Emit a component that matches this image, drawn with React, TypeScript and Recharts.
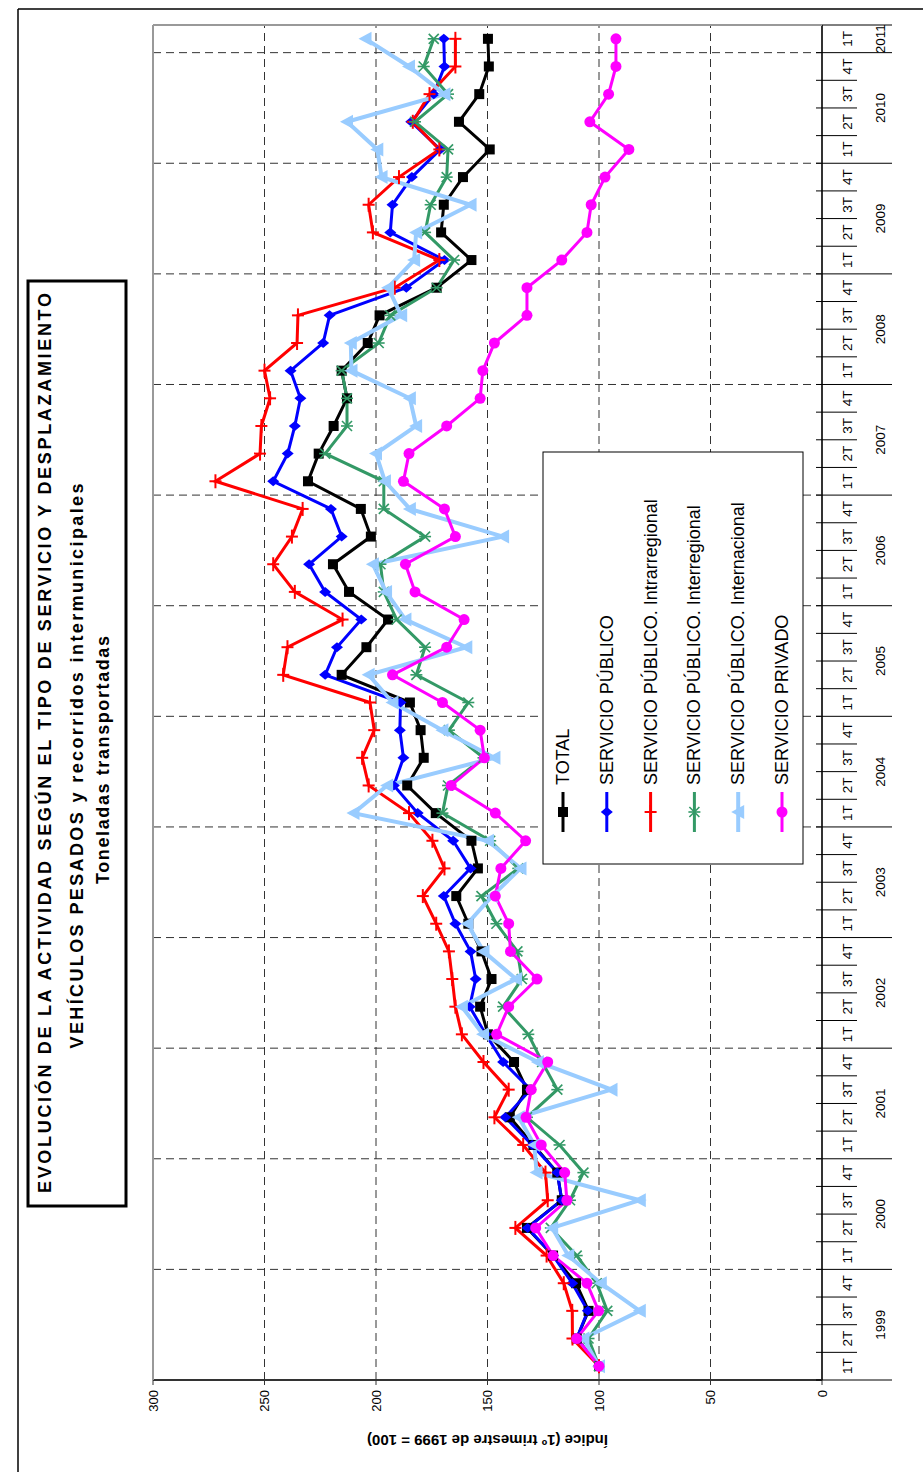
import { LineChart, Line, XAxis, YAxis, CartesianGrid } from "recharts";

// chart is drawn landscape and turned 90deg to the left, like the source sheet
const W = 1472;
const H = 923;
const PLOT_LEFT = 92;
const PLOT_TOP = 153;
const PLOT_W = 1355;
const PLOT_H = 669;
const FONT = "'Liberation Sans', Arial, sans-serif";

const years = ["1999", "2000", "2001", "2002", "2003", "2004", "2005", "2006", "2007", "2008", "2009", "2010", "2011"];
const quarters = ["1T", "2T", "3T", "4T"];
const periods = years.flatMap((y) => quarters.map((q) => `${q} ${y}`)).slice(0, 49);
const valueTicks = [0, 50, 100, 150, 200, 250, 300];

const total = [100, 110, 104.7, 110.3, 120.6, 132.3, 116.7, 118.7, 129.4, 140, 132.3, 138.1, 149.8, 153.3, 148.2, 152.7, 158.6, 164, 154.3, 157.2, 173.2, 186, 178.6, 180, 184.8, 215.4, 204.3, 194.6, 212.1, 219.3, 202.3, 206.8, 230.5, 225.7, 219, 213, 215.4, 203.7, 198.4, 172.8, 157.2, 170.8, 169.6, 161, 149, 162.8, 153.7, 149.4, 149.8];
const publico = [100, 110, 105, 112, 120.6, 132, 116.7, 118.7, 130, 142, 130.7, 143, 150.8, 158, 155.3, 157.6, 164.4, 169.6, 157.6, 165.4, 181.3, 192, 187.7, 189.3, 189, 222.8, 217.5, 206.6, 222.8, 230, 215.4, 220.2, 246.1, 239.6, 236.4, 233.9, 238.3, 223.7, 220.8, 186.4, 169.3, 193.6, 192.6, 183.9, 171.2, 184.2, 174.1, 169.3, 169.6];
const intra = [100, 111.9, 112, 115.8, 123.5, 137.5, 123, 124, 134, 146.9, 140.5, 151.8, 161.5, 164.4, 165.8, 167.3, 173, 179, 169.3, 174.7, 185.2, 203.3, 206.2, 200.8, 202.7, 241.6, 239.7, 215, 236.4, 246.1, 237.7, 232.9, 272, 252, 251.4, 247.5, 250, 235.4, 235, 191.6, 171.6, 201.4, 203.3, 189.7, 171.6, 183.5, 176, 164.4, 164.4];
const inter = [100, 104.7, 96.3, 101, 110, 121.6, 113, 107, 117.7, 132.3, 118.7, 125.5, 131.7, 143, 134.6, 136.6, 146, 152.7, 136.2, 148.8, 170.2, 167.7, 151.8, 167.3, 158.6, 181.9, 178, 190.7, 196.5, 198, 178, 196.5, 196.5, 222.8, 213, 213, 215.4, 198.8, 193.6, 172.8, 165, 178, 175.5, 168.3, 167.7, 182.5, 167.7, 178.6, 174.1];
const internac = [100, 107, 81.7, 99.2, 113.8, 121, 81.7, 128, 129, 136, 94.4, 127.4, 152, 161.5, 137.2, 151.8, 159, 148, 135.2, 149.8, 210.1, 195, 146.9, 170.2, 192.6, 203.3, 159.5, 186.8, 195.5, 201.4, 143, 184.8, 196, 200, 182, 184.8, 211, 211.3, 188.7, 194.6, 182.9, 182, 157.6, 197.5, 199.4, 213, 169.3, 185.2, 204.7];
const privado = [100, 110, 100.2, 105.4, 120.6, 128.4, 114.4, 115.4, 125.9, 132.7, 130.4, 123, 145.9, 140.5, 127.8, 139.7, 140.5, 146.5, 144, 132.9, 146.5, 166.3, 151.4, 153.3, 170.2, 192.6, 168.3, 160.5, 182.5, 186.8, 164.4, 169.3, 187.7, 185.2, 168.3, 153.3, 152.1, 146.9, 132.3, 132.3, 116.7, 105.4, 103.5, 97.3, 86.6, 104.1, 95.7, 92.4, 92.4];

const series = [
  { key: "total", name: "TOTAL", color: "#000000", width: 3, marker: "square", values: total },
  { key: "publico", name: "SERVICIO PÚBLICO", color: "#0000ff", width: 3, marker: "diamond", values: publico },
  { key: "intra", name: "SERVICIO PÚBLICO. Intrarregional", color: "#ff0000", width: 3, marker: "plus", values: intra },
  { key: "inter", name: "SERVICIO PÚBLICO. Interregional", color: "#339966", width: 3, marker: "star", values: inter },
  { key: "internac", name: "SERVICIO PÚBLICO. Internacional", color: "#99ccff", width: 4, marker: "triangle", values: internac },
  { key: "privado", name: "SERVICIO PRIVADO", color: "#ff00ff", width: 3, marker: "circle", values: privado },
];

const data = periods.map((p, i) => {
  const row: any = { periodo: p };
  series.forEach((s) => (row[s.key] = s.values[i]));
  return row;
});

const BAND = PLOT_W / periods.length;

function Marker({ shape, cx, cy, color }: { shape: string; cx: number; cy: number; color: string }) {
  if (cx == null || cy == null) return null;
  switch (shape) {
    case "square":
      return <rect x={cx - 5} y={cy - 5} width={10} height={10} fill={color} />;
    case "diamond":
      return <polygon points={`${cx},${cy - 6} ${cx + 5},${cy} ${cx},${cy + 6} ${cx - 5},${cy}`} fill={color} />;
    case "plus":
      return (
        <g stroke={color} strokeWidth={2}>
          <line x1={cx - 7} x2={cx + 7} y1={cy} y2={cy} />
          <line x1={cx} x2={cx} y1={cy - 6} y2={cy + 6} />
        </g>
      );
    case "star":
      return (
        <g stroke={color} strokeWidth={1.6}>
          <line x1={cx - 5} x2={cx + 5} y1={cy - 5} y2={cy + 5} />
          <line x1={cx - 5} x2={cx + 5} y1={cy + 5} y2={cy - 5} />
          <line x1={cx} x2={cx} y1={cy - 6} y2={cy + 6} />
        </g>
      );
    case "triangle":
      return <polygon points={`${cx},${cy - 7} ${cx + 7},${cy + 6} ${cx - 7},${cy + 6}`} fill={color} />;
    default:
      return <circle cx={cx} cy={cy} r={5.5} fill={color} />;
  }
}

function PeriodTick(props: any) {
  const { x, y, payload } = props;
  const i = payload.index;
  const q = i % 4;
  const yr = years[Math.floor(i / 4)];
  const left = x - BAND / 2;
  const last = i === periods.length - 1;
  return (
    <g fontFamily={FONT} fontSize={13.5} fill="#000">
      <line x1={left} x2={left} y1={y - 6} y2={y + (q === 0 ? 70 : 35)} stroke="#000" strokeWidth={1} />
      <text x={x} y={y + 25} textAnchor="middle" dominantBaseline="central">{quarters[q]}</text>
      {q === 1 && (
        <text x={x + BAND / 2} y={y + 58} textAnchor="middle" dominantBaseline="central">{yr}</text>
      )}
      {last && (
        <g>
          <line x1={x + BAND / 2} x2={x + BAND / 2} y1={y} y2={y + 70} stroke="#000" strokeWidth={1} />
          {q === 0 && <text x={x} y={y + 58} textAnchor="middle" dominantBaseline="central">{yr}</text>}
        </g>
      )}
    </g>
  );
}

function ValueLabel(props: any) {
  const { viewBox } = props;
  const cx = viewBox.x;
  const cy = viewBox.y + viewBox.height / 2;
  return (
    <text x={cx} y={cy} transform={`rotate(-90 ${cx} ${cy})`} textAnchor="middle" dominantBaseline="central"
      fontFamily={FONT} fontSize={15} fontWeight="bold" fill="#000">
      Índice (1º trimestre de 1999 = 100)
    </text>
  );
}

const yearLines = years.slice(1).map((_, k) => PLOT_LEFT + BAND * 4 * (k + 1));

export default function App() {
  return (
    <div style={{ position: "absolute", left: 0, top: 0, width: H, height: W, overflow: "hidden", background: "#fff" }}>
      <div style={{ position: "absolute", left: 0, top: 0, width: W, height: H, transformOrigin: "0 0", transform: `translateY(${W}px) rotate(-90deg)` }}>
        <LineChart width={W} height={H} data={data} margin={{ top: PLOT_TOP, right: W - PLOT_LEFT - PLOT_W, bottom: 11, left: 32 }}>
          <CartesianGrid stroke="#333" strokeDasharray="8 5" verticalPoints={yearLines} />
          <XAxis dataKey="periodo" interval={0} height={90} tickSize={0} tickMargin={0} tick={<PeriodTick />}
            padding={{ left: BAND / 2, right: BAND / 2 }}
            tickLine={false} axisLine={{ stroke: "#333", strokeWidth: 2 }} />
          <YAxis domain={[0, 300]} ticks={valueTicks} width={60} tickSize={5} tickMargin={5}
            tick={{ fontFamily: FONT, fontSize: 13, fill: "#000" }} tickLine={{ stroke: "#333" }}
            axisLine={{ stroke: "#333", strokeWidth: 2 }} label={<ValueLabel />} />
          {series.map((s) => (
            <Line key={s.key} dataKey={s.key} name={s.name} stroke={s.color} strokeWidth={s.width} type="linear"
              isAnimationActive={false} activeDot={false}
              dot={(p: any) => (
                <g key={`${s.key}-${p.index}`}>
                  <Marker shape={s.marker} cx={p.cx} cy={p.cy} color={s.color} />
                </g>
              )} />
          ))}
        </LineChart>
        <svg width={W} height={H} style={{ position: "absolute", left: 0, top: 0, pointerEvents: "none" }}>
          {/* page frame */}
          <line x1={0} x2={1463} y1={18} y2={18} stroke="#000" strokeWidth={1.5} />
          <line x1={1463} x2={1463} y1={18} y2={H} stroke="#000" strokeWidth={1.5} />
          {/* plot border */}
          <line x1={PLOT_LEFT} x2={PLOT_LEFT + PLOT_W} y1={PLOT_TOP} y2={PLOT_TOP} stroke="#999" strokeWidth={2} />
          <line x1={PLOT_LEFT + PLOT_W} x2={PLOT_LEFT + PLOT_W} y1={PLOT_TOP} y2={PLOT_TOP + PLOT_H} stroke="#999" strokeWidth={2} />
          {/* title */}
          <g fontFamily={FONT} fontWeight="bold" fontSize={18} fill="#000">
            <rect x={266} y={28} width={925} height={98} fill="#fff" stroke="#000" strokeWidth={3} />
            <text x={729} y={45} textAnchor="middle" dominantBaseline="central" textLength={900} lengthAdjust="spacing">
              EVOLUCIÓN DE LA ACTIVIDAD SEGÚN EL TIPO DE SERVICIO Y DESPLAZAMIENTO
            </text>
            <text x={706} y={77} textAnchor="middle" dominantBaseline="central" textLength={565} lengthAdjust="spacing">
              VEHÍCULOS PESADOS y recorridos intermunicipales
            </text>
            <text x={712} y={103} textAnchor="middle" dominantBaseline="central" textLength={248} lengthAdjust="spacing">
              Toneladas transportadas
            </text>
          </g>
          {/* legend */}
          <g transform="translate(608 543)" fontFamily={FONT} fontSize={18} fill="#000">
            <rect x={0} y={0} width={412} height={260} fill="#fff" stroke="#000" strokeWidth={1} />
            {series.map((s, k) => {
              const ly = 20 + k * 43.8;
              return (
                <g key={s.key}>
                  <line x1={32} x2={72} y1={ly} y2={ly} stroke={s.color} strokeWidth={s.width} />
                  <Marker shape={s.marker} cx={52} cy={ly} color={s.color} />
                  <text x={79} y={ly} dominantBaseline="central">{s.name}</text>
                </g>
              );
            })}
          </g>
        </svg>
      </div>
    </div>
  );
}
